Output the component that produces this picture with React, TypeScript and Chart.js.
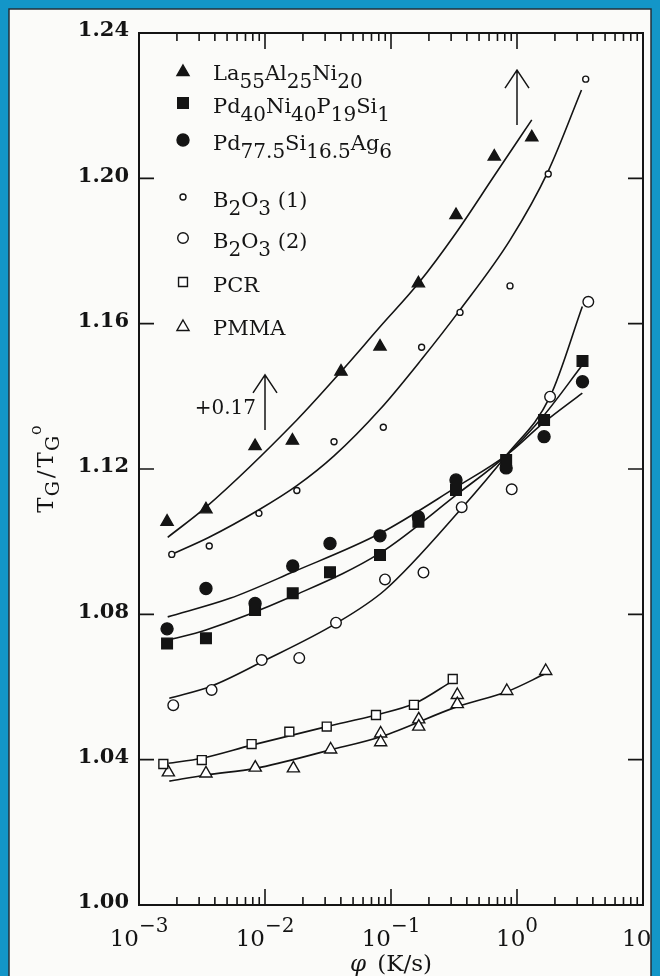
import { useEffect, useRef } from 'react';
import { Chart, registerables } from 'chart.js';

Chart.register(...registerables);

// Heating rate φ (K/s) and reduced glass temperature T_G/T_G° per material
const laRate = [0.00167, 0.0034, 0.00834, 0.0165, 0.0401, 0.0818, 0.165, 0.328, 0.66, 1.31];
const laTg = [1.1055, 1.1089, 1.1263, 1.1278, 1.1468, 1.1537, 1.1711, 1.1899, 1.206, 1.2113];

const pdpRate = [0.00167, 0.0034, 0.00834, 0.0166, 0.0328, 0.0818, 0.165, 0.328, 0.82, 1.64, 3.31];
const pdpTg = [1.072, 1.0734, 1.0812, 1.0858, 1.0916, 1.0963, 1.1055, 1.1142, 1.1225, 1.1335, 1.1497];

const pdagRate = [0.00167, 0.0034, 0.00834, 0.0166, 0.0328, 0.0818, 0.165, 0.328, 0.82, 1.64, 3.31];
const pdagTg = [1.076, 1.0871, 1.083, 1.0933, 1.0995, 1.1016, 1.1068, 1.117, 1.1203, 1.1289, 1.144];

const b1Rate = [0.00182, 0.00361, 0.00895, 0.0179, 0.0353, 0.0869, 0.175, 0.353, 0.88, 1.77, 3.51];
const b1Tg = [1.0965, 1.0988, 1.1078, 1.1141, 1.1275, 1.1315, 1.1535, 1.1631, 1.1704, 1.2012, 1.2273];

const b2Rate = [0.00187, 0.00377, 0.00942, 0.0187, 0.0366, 0.0896, 0.181, 0.364, 0.908, 1.83, 3.68];
const b2Tg = [1.055, 1.0592, 1.0674, 1.068, 1.0777, 1.0896, 1.0915, 1.1095, 1.1144, 1.1399, 1.166];

const pcrRate = [0.00156, 0.00315, 0.00783, 0.0156, 0.0309, 0.076, 0.152, 0.309];
const pcrTg = [1.0388, 1.0399, 1.0443, 1.0477, 1.0491, 1.0523, 1.0551, 1.0622];

const pmmaRate = [0.00171, 0.0034, 0.00837, 0.0168, 0.0332, 0.0828, 0.0828, 0.166, 0.166, 0.336, 0.336, 0.83, 1.69];
const pmmaTg = [1.0365, 1.0362, 1.0378, 1.0376, 1.0428, 1.0472, 1.0448, 1.0511, 1.0491, 1.0578, 1.0553, 1.0589, 1.0644];

// Smooth guide curves drawn through each set
const laFitRate = [0.00169, 0.0034, 0.0179, 0.0401, 0.0822, 0.165, 0.33, 0.66, 1.31];
const laFitTg = [1.1012, 1.1095, 1.1335, 1.1468, 1.1592, 1.1711, 1.1851, 1.2007, 1.2161];

const pdpFitRate = [0.00169, 0.0034, 0.0168, 0.0822, 0.33, 0.83, 1.62, 3.3];
const pdpFitTg = [1.0729, 1.0757, 1.0851, 1.0969, 1.1129, 1.1239, 1.1346, 1.1486];

const pdagFitRate = [0.00169, 0.00527, 0.0168, 0.0822, 0.33, 0.83, 1.62, 3.3];
const pdagFitTg = [1.0793, 1.0844, 1.0917, 1.1023, 1.115, 1.1239, 1.1327, 1.1409];

const b1FitRate = [0.00182, 0.0036, 0.0089, 0.0179, 0.0353, 0.0822, 0.175, 0.353, 0.88, 1.77, 3.25];
const b1FitTg = [1.0965, 1.1012, 1.1087, 1.1154, 1.1236, 1.1365, 1.1502, 1.1638, 1.183, 1.202, 1.2243];

const b2FitRate = [0.00174, 0.00378, 0.00942, 0.0366, 0.0896, 0.364, 0.83, 1.83, 3.3];
const b2FitTg = [1.0569, 1.0603, 1.0669, 1.0775, 1.0867, 1.1092, 1.1239, 1.1399, 1.1647];

const pcrFitRate = [0.00171, 0.00315, 0.00784, 0.0309, 0.076, 0.155, 0.309];
const pcrFitTg = [1.039, 1.0404, 1.044, 1.0491, 1.0523, 1.0555, 1.0617];

const pmmaFitRate = [0.00174, 0.0034, 0.00837, 0.0332, 0.0828, 0.336, 0.829, 1.69];
const pmmaFitTg = [1.0341, 1.0358, 1.0376, 1.0427, 1.0463, 1.0546, 1.0587, 1.0637];

const seriesLabels = ['La55Al25Ni20', 'Pd40Ni40P19Si1', 'Pd77.5Si16.5Ag6', 'B2O3 (1)', 'B2O3 (2)', 'PCR', 'PMMA'];

// Axis ticks
const yTickValues = [1.0, 1.04, 1.08, 1.12, 1.16, 1.2, 1.24];
const xDecadeExponents = [-3, -2, -1, 0, 1];
const xMinorMultipliers = [2, 3, 4, 5, 6, 7, 8, 9];

// Upward arrows: the two upper data sets are offset by +0.17
const shiftRate = [0.01, 1.0];
const shiftFrom = [1.1307, 1.2147];
const shiftTo = [1.1459, 1.2298];
const shiftText = '+0.17';

const FONT = '"DejaVu Serif", serif';
const INK = '#141414';
const PAGE = { left: 9, top: 9, right: 651, bottom: 990 };

type Marker = { style: 'triangle' | 'rect' | 'circle'; radius: number; fill: string };
const markers: Marker[] = [
  { style: 'triangle', radius: 7, fill: INK },
  { style: 'rect', radius: 7.5, fill: INK },
  { style: 'circle', radius: 6, fill: INK },
  { style: 'circle', radius: 3, fill: '#ffffff' },
  { style: 'circle', radius: 5.3, fill: '#ffffff' },
  { style: 'rect', radius: 6.3, fill: '#ffffff' },
  { style: 'triangle', radius: 7, fill: '#ffffff' },
];

const pointSets: [number[], number[]][] = [
  [laRate, laTg], [pdpRate, pdpTg], [pdagRate, pdagTg], [b1Rate, b1Tg],
  [b2Rate, b2Tg], [pcrRate, pcrTg], [pmmaRate, pmmaTg],
];
const fitSets: [number[], number[]][] = [
  [laFitRate, laFitTg], [pdpFitRate, pdpFitTg], [pdagFitRate, pdagFitTg], [b1FitRate, b1FitTg],
  [b2FitRate, b2FitTg], [pcrFitRate, pcrFitTg], [pmmaFitRate, pmmaFitTg],
];

const toXY = (xs: number[], ys: number[]) => xs.map((x, i) => ({ x, y: ys[i] }));

type Seg = { t: string; size: number; dy?: number; italic?: boolean; bold?: boolean; gap?: number };

function segFont(s: Seg) {
  return `${s.italic ? 'italic ' : ''}${s.bold ? 'bold ' : ''}${s.size}px ${FONT}`;
}

function richWidth(ctx: CanvasRenderingContext2D, segs: Seg[]) {
  let w = 0;
  for (const s of segs) {
    ctx.font = segFont(s);
    w += ctx.measureText(s.t).width + (s.gap ?? 0);
  }
  return w;
}

function drawRich(ctx: CanvasRenderingContext2D, segs: Seg[], x: number, y: number, align: 'left' | 'center' | 'right') {
  const total = richWidth(ctx, segs);
  let cx = align === 'left' ? x : align === 'center' ? x - total / 2 : x - total;
  ctx.textAlign = 'left';
  ctx.textBaseline = 'alphabetic';
  for (const s of segs) {
    ctx.font = segFont(s);
    ctx.fillText(s.t, cx, y + (s.dy ?? 0));
    cx += ctx.measureText(s.t).width + (s.gap ?? 0);
  }
}

// Chemical formula: digit runs that follow a letter become subscripts
function formulaSegs(label: string, base: number, sub: number): Seg[] {
  const out: Seg[] = [];
  let i = 0;
  while (i < label.length) {
    const ch = label[i];
    const prev = i > 0 ? label[i - 1] : '';
    if (/[0-9]/.test(ch) && /[A-Za-z]/.test(prev)) {
      let j = i;
      while (j < label.length && /[0-9.]/.test(label[j])) j++;
      out.push({ t: label.slice(i, j), size: sub, dy: 8 });
      i = j;
    } else {
      let j = i + 1;
      while (j < label.length && !(/[0-9]/.test(label[j]) && /[A-Za-z]/.test(label[j - 1]))) j++;
      out.push({ t: label.slice(i, j), size: base });
      i = j;
    }
  }
  return out;
}

function drawMarker(ctx: CanvasRenderingContext2D, m: Marker, x: number, y: number) {
  ctx.beginPath();
  if (m.style === 'circle') {
    ctx.arc(x, y, m.radius, 0, Math.PI * 2);
  } else if (m.style === 'rect') {
    const h = Math.SQRT1_2 * m.radius;
    ctx.rect(x - h, y - h, 2 * h, 2 * h);
  } else {
    let rad = 0;
    ctx.moveTo(x + Math.sin(rad) * m.radius, y - Math.cos(rad) * m.radius);
    rad += (2 * Math.PI) / 3;
    ctx.lineTo(x + Math.sin(rad) * m.radius, y - Math.cos(rad) * m.radius);
    rad += (2 * Math.PI) / 3;
    ctx.lineTo(x + Math.sin(rad) * m.radius, y - Math.cos(rad) * m.radius);
    ctx.closePath();
  }
  ctx.fillStyle = m.fill;
  ctx.fill();
  ctx.lineWidth = 1.4;
  ctx.strokeStyle = INK;
  ctx.stroke();
}

const legendRowOffsets = [47, 80, 117, 174, 215, 259, 302];

const decor = {
  id: 'decor',
  beforeDraw(chart: Chart) {
    const { ctx, width, height } = chart;
    ctx.save();
    ctx.fillStyle = '#1396c8';
    ctx.fillRect(0, 0, width, height);
    ctx.fillStyle = '#fbfbf9';
    ctx.fillRect(PAGE.left, PAGE.top, PAGE.right - PAGE.left, PAGE.bottom - PAGE.top);
    ctx.strokeStyle = '#23303a';
    ctx.lineWidth = 1.5;
    ctx.strokeRect(PAGE.left, PAGE.top, PAGE.right - PAGE.left, PAGE.bottom - PAGE.top);
    ctx.restore();
  },
  afterDatasetsDraw(chart: Chart) {
    const { ctx, chartArea: a } = chart;
    const xs = chart.scales.x;
    const ys = chart.scales.y;
    ctx.save();
    ctx.beginPath();
    ctx.rect(PAGE.left + 1, PAGE.top + 1, PAGE.right - PAGE.left - 2, PAGE.bottom - PAGE.top - 2);
    ctx.clip();
    ctx.strokeStyle = INK;
    ctx.fillStyle = INK;

    // frame
    ctx.lineWidth = 2;
    ctx.strokeRect(a.left, a.top, a.right - a.left, a.bottom - a.top);

    // y ticks, inward on both sides
    ctx.lineWidth = 1.6;
    for (const v of yTickValues) {
      const py = ys.getPixelForValue(v);
      ctx.beginPath();
      ctx.moveTo(a.left, py);
      ctx.lineTo(a.left + 15, py);
      ctx.moveTo(a.right, py);
      ctx.lineTo(a.right - 15, py);
      ctx.stroke();
    }

    // x ticks (log decades with minors), inward on top and bottom
    for (const e of xDecadeExponents.slice(0, -1)) {
      for (const m of [1, ...xMinorMultipliers]) {
        const px = xs.getPixelForValue(m * Math.pow(10, e));
        const len = m === 1 ? 16 : 8;
        ctx.beginPath();
        ctx.moveTo(px, a.bottom);
        ctx.lineTo(px, a.bottom - len);
        ctx.moveTo(px, a.top);
        ctx.lineTo(px, a.top + len);
        ctx.stroke();
      }
    }

    // y tick labels
    ctx.font = `bold 21px ${FONT}`;
    ctx.textAlign = 'right';
    ctx.textBaseline = 'middle';
    for (const v of yTickValues) {
      ctx.fillText(v.toFixed(2), a.left - 10, ys.getPixelForValue(v) - 2);
    }

    // x tick labels 10^n
    for (const e of xDecadeExponents) {
      const px = xs.getPixelForValue(Math.pow(10, e));
      const exp = e < 0 ? `\u2212${-e}` : String(e);
      drawRich(ctx, [{ t: '10', size: 23 }, { t: exp, size: 20, dy: -14 }], px, a.bottom + 41, 'center');
    }

    // x axis title
    drawRich(ctx, [{ t: '\u03c6', size: 23, italic: true, gap: 4 }, { t: ' (K/s)', size: 23 }], (a.left + a.right) / 2, a.bottom + 66, 'center');

    // y axis title, rotated
    ctx.save();
    ctx.translate(a.left - 86, (a.top + a.bottom) / 2);
    ctx.rotate(-Math.PI / 2);
    drawRich(ctx, [
      { t: 'T', size: 23, gap: 1 },
      { t: 'G', size: 19, dy: 6, gap: 3 },
      { t: '/', size: 23, gap: 3 },
      { t: 'T', size: 23, gap: 1 },
      { t: 'G', size: 19, dy: 6, gap: 1 },
      { t: 'o', size: 16, dy: -12 },
    ], 0, 0, 'center');
    ctx.restore();

    // legend
    seriesLabels.forEach((label, i) => {
      const base = a.top + legendRowOffsets[i];
      const m = markers[i];
      drawMarker(ctx, m, a.left + 44, base - (m.style === 'triangle' ? 8 : 10));
      ctx.fillStyle = INK;
      drawRich(ctx, formulaSegs(label, 21, 20), a.left + 74, base, 'left');
    });

    // shift arrows
    ctx.lineWidth = 1.5;
    shiftRate.forEach((r, i) => {
      const px = xs.getPixelForValue(r);
      const y0 = ys.getPixelForValue(shiftFrom[i]);
      const y1 = ys.getPixelForValue(shiftTo[i]);
      ctx.beginPath();
      ctx.moveTo(px, y0);
      ctx.lineTo(px, y1);
      ctx.moveTo(px - 12, y1 + 18);
      ctx.lineTo(px, y1);
      ctx.lineTo(px + 12, y1 + 18);
      ctx.stroke();
    });
    {
      const px = xs.getPixelForValue(shiftRate[0]);
      const py = (ys.getPixelForValue(shiftFrom[0]) + ys.getPixelForValue(shiftTo[0])) / 2;
      ctx.font = `20px ${FONT}`;
      ctx.textAlign = 'right';
      ctx.textBaseline = 'middle';
      ctx.fillText(shiftText, px - 9, py + 6);
    }
    ctx.restore();
  },
};

export default function App() {
  const ref = useRef<HTMLCanvasElement>(null);

  useEffect(() => {
    const canvas = ref.current;
    if (!canvas) return;
    const chart = new Chart(canvas, {
      type: 'scatter',
      data: {
        datasets: [
          ...pointSets.map(([xs, ys], i) => ({
            label: seriesLabels[i],
            data: toXY(xs, ys),
            showLine: false,
            pointStyle: markers[i].style,
            pointRadius: markers[i].radius,
            pointBackgroundColor: markers[i].fill,
            pointBorderColor: INK,
            pointBorderWidth: 1.4,
          })),
          ...fitSets.map(([xs, ys], i) => ({
            label: `${seriesLabels[i]} fit`,
            data: toXY(xs, ys),
            showLine: true,
            borderColor: INK,
            borderWidth: 1.6,
            pointRadius: 0,
            cubicInterpolationMode: 'monotone' as const,
            fill: false,
          })),
        ],
      },
      options: {
        responsive: false,
        animation: false,
        devicePixelRatio: 1,
        events: [],
        layout: { padding: { left: 139, right: 17, top: 33, bottom: 71 } },
        scales: {
          x: { type: 'logarithmic', min: 0.001, max: 10, display: false },
          y: { type: 'linear', min: 1.0, max: 1.24, display: false },
        },
        plugins: {
          legend: { display: false },
          tooltip: { enabled: false },
        },
      },
      plugins: [decor],
    });
    return () => chart.destroy();
  }, []);

  return (
    <div style={{ position: 'fixed', left: 0, top: 0, width: 660, height: 976, overflow: 'hidden' }}>
      <canvas ref={ref} width={660} height={976} style={{ display: 'block', width: 660, height: 976 }} />
    </div>
  );
}
